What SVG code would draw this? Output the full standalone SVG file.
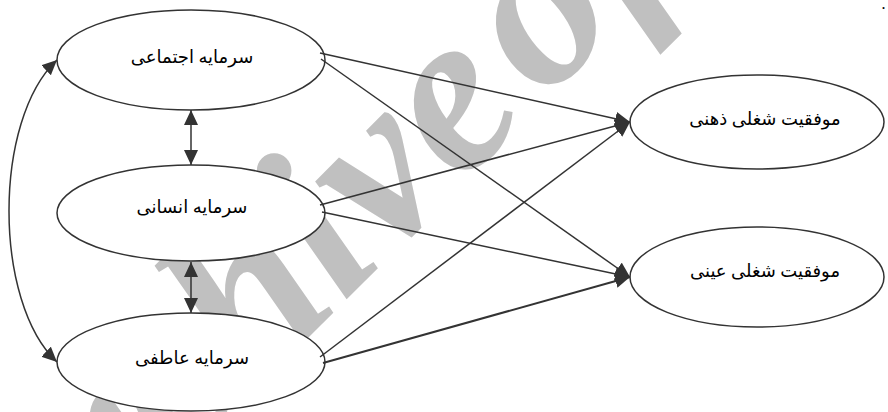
<svg xmlns="http://www.w3.org/2000/svg" width="888" height="412" viewBox="0 0 888 412">
  <style>
    .node ellipse { fill: #ffffff; stroke: #333333; stroke-width: 1.5; }
    .node text { font-family: "Liberation Serif", "DejaVu Sans", serif; font-size: 18px; fill: #000000; text-anchor: middle; direction: rtl; }
    .edge { fill: none; stroke: #333333; stroke-width: 1.5; }
    .thick { stroke-width: 2; }
    .mark { font-family: "Liberation Serif", "Times New Roman", serif; font-weight: bold; font-style: italic; font-size: 230px; fill: #c0c0c0; word-spacing: -40px; }
  </style>
  <defs>
    <marker id="head" markerUnits="userSpaceOnUse" markerWidth="16" markerHeight="15" refX="15" refY="7" orient="auto-start-reverse">
      <path d="M0,0 L15,7 L0,14 Z" fill="#333333"/>
    </marker>
  </defs>

  <rect width="888" height="412" fill="#ffffff"/>

  <!-- background stamp -->
  <text class="mark" x="8" y="638" transform="rotate(-45 8 638)">Archive of SID</text>

  <!-- predictors -->
  <g id="social-capital" class="node">
    <ellipse cx="191" cy="60" rx="134" ry="50"/>
    <text x="192" y="63">سرمایه اجتماعی</text>
  </g>
  <g id="human-capital" class="node">
    <ellipse cx="191" cy="213" rx="134" ry="48"/>
    <text x="192" y="213">سرمایه انسانی</text>
  </g>
  <g id="emotional-capital" class="node">
    <ellipse cx="191" cy="362" rx="134" ry="49"/>
    <text x="192" y="364">سرمایه عاطفی</text>
  </g>

  <!-- outcomes -->
  <g id="subjective-success" class="node">
    <ellipse cx="757" cy="122" rx="127" ry="47"/>
    <text x="765" y="125">موفقیت شغلی ذهنی</text>
  </g>
  <g id="objective-success" class="node">
    <ellipse cx="757" cy="277" rx="127" ry="50"/>
    <text x="765" y="277">موفقیت شغلی عینی</text>
  </g>

  <!-- connectors -->
  <g id="connectors">
    <path class="edge" d="M191,110 L191,165" marker-start="url(#head)" marker-end="url(#head)"/>
    <path class="edge" d="M191,262 L191,313" marker-start="url(#head)" marker-end="url(#head)"/>
    <path class="edge" d="M57,60 C-7,120 -7,302 57,362" marker-start="url(#head)" marker-end="url(#head)"/>

    <path class="edge" d="M320,53 L630,122" marker-end="url(#head)"/>
    <path class="edge" d="M321,59 L630,277" marker-end="url(#head)"/>
    <path class="edge" d="M320,205 L630,122" marker-end="url(#head)"/>
    <path class="edge" d="M322,212 L630,277" marker-end="url(#head)"/>
    <path class="edge" d="M320,357 L630,122" marker-end="url(#head)"/>
    <path class="edge thick" d="M323,363 L630,277" marker-end="url(#head)"/>
  </g>

  <text x="885" y="9" font-family="Liberation Serif, serif" font-size="12" font-weight="bold" text-anchor="end">.</text>
</svg>
